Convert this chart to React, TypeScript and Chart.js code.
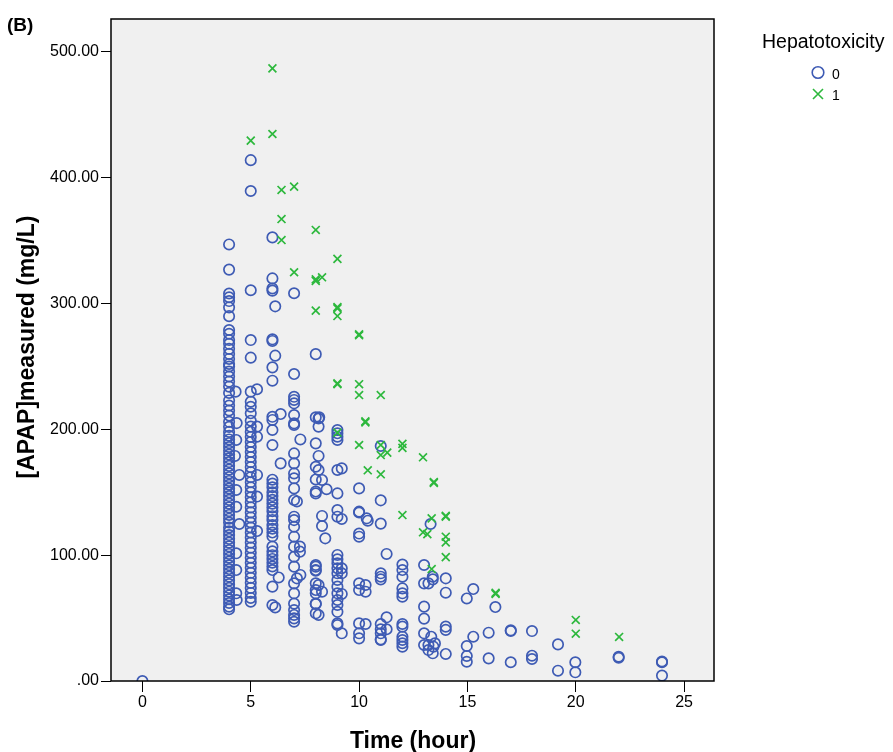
import { useEffect, useRef } from "react";
import { Chart, registerables } from "chart.js";

Chart.register(...registerables);

// ---- Axis ticks ----
const xTickValues = [0, 5, 10, 15, 20, 25];
const yTickValues = [0, 100, 200, 300, 400, 500];

// ---- Hepatotoxicity = 0 (circles): values measured at whole-hour times ----
const circleHours = [0, 4, 5, 6, 7, 8, 9, 10, 11, 12, 13, 14];
const circles_t0 = [0];
const circles_t4 = [347, 327, 308, 305, 302, 297, 290, 279, 276, 271, 268, 264, 260, 256, 252, 250, 246, 242, 238, 234, 229, 223, 219, 215, 211, 206, 202, 198, 195, 192, 189, 186, 183, 180, 177, 174, 171, 168, 165, 162, 159, 156, 153, 150, 147, 144, 141, 138, 135, 132, 129, 126, 122, 119, 116, 113, 110, 107, 104, 101, 98, 95, 92, 89, 86, 83, 80, 77, 74, 71, 68, 65, 62, 59, 57];
const circles_t5 = [414, 389.5, 310.6, 271, 257, 230, 222, 218, 212.8, 206.9, 202.2, 198, 194, 190, 186, 182, 178, 174, 170, 166, 162, 158, 154, 150, 146, 142, 138, 134, 130, 126, 122, 118, 114, 110, 106, 102, 98, 94, 90, 86, 82, 78, 74, 70, 66, 63];
const circles_t6 = [352.6, 320, 312, 310.3, 271.6, 270.3, 249.3, 238.7, 210, 207.5, 199.5, 187.6, 160, 157, 154, 150, 147, 144, 141, 138, 135, 131, 128, 124, 121, 118, 115, 106.8, 103, 100, 97, 94, 91, 88.2, 75, 60.4];
const circles_t7 = [308.2, 244, 225.9, 223.4, 220.7, 211.4, 204.8, 203.5, 180.9, 173, 165, 161.1, 153.1, 143.9, 130.6, 127.9, 122.6, 114.7, 106.8, 98.8, 90.9, 77.6, 69.7, 61.5, 56.4, 52.5, 49.8, 47.1];
const circles_t8 = [259.8, 209.6, 188.9, 170.3, 160.2, 150.6, 149.1, 92.2, 90.9, 88.2, 87.7, 77.6, 72.3, 69.7, 61.5, 61.2, 53.8];
const circles_t9 = [199.5, 196.9, 194.2, 191.6, 167.7, 149.1, 135.9, 130.6, 100.2, 96.7, 93.6, 89.6, 85.6, 80.3, 75, 69.7, 64.4, 60.4, 55, 45.8, 44.5];
const circles_t10 = [153.1, 134.6, 133.9, 117.2, 114.7, 77.6, 72.3, 45.8, 37.9, 33.9];
const circles_t11 = [186.8, 143.6, 125.1, 85.6, 82.9, 80.8, 45.3, 41.1, 37.9, 33.1, 32.6];
const circles_t12 = [92.6, 88.2, 82.9, 73.6, 69.7, 67, 45.3, 43.2, 35.2, 32.6, 30, 27.3];
const circles_t13 = [92.2, 77.6, 59.1, 49.6, 37.9, 28.6];
const circles_t14 = [81.6, 70.2, 43.2, 40.6, 21.5];
const circleColumns = [circles_t0, circles_t4, circles_t5, circles_t6, circles_t7, circles_t8, circles_t9, circles_t10, circles_t11, circles_t12, circles_t13, circles_t14];

// ---- Hepatotoxicity = 0 (circles): values at non-whole times [hour, mg/L] ----
const circlesEarlyOffset: [number, number][] = [
  [4.3, 230], [4.35, 205], [4.33, 191.6], [4.27, 178.9], [4.47, 163.8], [4.33, 151.8], [4.33, 138.5], [4.47, 124.8], [4.33, 101.5], [4.33, 88.2], [4.33, 69.7], [4.35, 64.4],
  [5.29, 231.9], [5.29, 202.2], [5.29, 194.2], [5.29, 163.8], [5.29, 146.6], [5.29, 119.2],
  [6.13, 297.8], [6.13, 258.6], [6.38, 212.2], [6.38, 173], [6.29, 82.3], [6.13, 58.5],
  [7.29, 192], [7.13, 142.7], [7.27, 106.8], [7.27, 102.8], [7.29, 84.3], [7.13, 81.6],
];
const circlesMidOffset: [number, number][] = [
  [8.16, 209.6], [8.13, 208.6], [8.13, 202.2], [8.13, 178.9], [8.13, 167.7], [8.29, 159.8], [8.5, 152.4], [8.29, 131.2], [8.29, 123.2], [8.44, 113.4], [8.13, 76.3], [8.29, 71], [8.13, 52.5],
  [9.2, 169], [9.2, 128.8], [9.2, 89.6], [9.2, 85.6], [9.2, 69.2], [9.2, 37.9],
  [10.35, 129.3], [10.4, 127.4], [10.3, 76.3], [10.3, 71], [10.3, 45.3],
  [11.27, 101], [11.27, 50.6], [11.27, 41.1],
  [13.3, 124.8], [13.2, 77.6], [13.4, 82.9], [13.4, 80.8], [13.2, 28.6], [13.33, 35.2], [13.43, 27.3], [13.4, 22], [13.2, 24.6], [13.5, 29.9],
];
const circlesLate: [number, number][] = [
  [14.97, 65.6], [15.27, 73.1], [14.97, 27.8], [15.27, 35.2], [14.97, 19.9], [14.97, 15.3],
  [15.98, 38.4], [15.98, 18], [16.29, 58.8],
  [17, 39.7], [17, 40.3], [17, 14.9],
  [17.98, 39.7], [17.98, 20.1], [17.98, 17.5],
  [19.18, 29.1], [19.18, 8.2],
  [19.98, 14.9], [19.98, 6.9],
  [21.98, 19.3], [21.98, 18.5],
  [23.98, 14.9], [23.98, 15.5], [23.98, 4.3],
];

// ---- Hepatotoxicity = 1 (crosses) [hour, mg/L] ----
const crossesEarly: [number, number][] = [
  [5, 429.5], [6, 487], [6, 434.8], [6.42, 390.3], [7, 393], [6.42, 367.2], [8, 358.5], [6.42, 350.5],
  [9, 335.5], [7, 324.9], [8, 319.3], [8, 318], [8.29, 320.9], [8, 294.4], [9, 296.2], [9, 297.2], [9, 290.1],
  [10, 274.8], [10, 275.6], [9, 235.9], [9, 236.6], [10, 235.9], [10, 227.3], [11, 227.3],
];
const crossesLate: [number, number][] = [
  [10.29, 205.6], [10.29, 206.4], [9, 197.4], [10, 187.6], [11, 187.6], [11, 179.6], [11.3, 181.5], [12, 188.5], [12, 185.3],
  [12.95, 177.8], [10.4, 167.5], [11, 164.3], [13.45, 157.4], [13.45, 158.2], [12, 131.9], [13.35, 129.3], [14, 130.6], [14, 131.3],
  [12.95, 118.2], [13.15, 116.7], [14, 114.7], [14, 110.2], [14, 98.5], [13.35, 89], [16.3, 69.2], [16.3, 70],
  [20, 48.5], [20, 37.6], [22, 35],
];

const BLUE = "#3E5BB4";
const GREEN = "#2DB83D";
const FONT = '"Liberation Sans", Arial, sans-serif';

const decorPlugin = {
  id: "decor",
  beforeDraw(chart: any) {
    const { ctx, chartArea: a } = chart;
    ctx.save();
    ctx.fillStyle = "#F0F0F0";
    ctx.fillRect(a.left, a.top, a.right - a.left, a.bottom - a.top);
    ctx.restore();
  },
  afterDraw(chart: any) {
    const { ctx, chartArea: a } = chart;
    ctx.save();
    ctx.strokeStyle = "#000";
    ctx.lineWidth = 1.5;
    ctx.strokeRect(a.left, a.top, a.right - a.left, a.bottom - a.top);

    ctx.fillStyle = "#000";
    // panel letter
    ctx.font = `bold 19px ${FONT}`;
    ctx.textAlign = "left";
    ctx.textBaseline = "alphabetic";
    ctx.fillText("(B)", 7, 31);

    // axis titles
    ctx.font = `bold 23px ${FONT}`;
    ctx.textAlign = "center";
    ctx.fillText("Time (hour)", 413, 748);
    ctx.save();
    ctx.translate(34, 347);
    ctx.rotate(-Math.PI / 2);
    ctx.fillText("[APAP]measured (mg/L)", 0, 0);
    ctx.restore();

    // legend
    ctx.textAlign = "left";
    ctx.font = `19.5px ${FONT}`;
    ctx.fillText("Hepatotoxicity", 762, 48);
    ctx.font = `14px ${FONT}`;
    ctx.fillText("0", 832, 78.5);
    ctx.fillText("1", 832, 100);
    ctx.strokeStyle = BLUE;
    ctx.lineWidth = 1.6;
    ctx.beginPath();
    ctx.arc(818, 72.5, 5.8, 0, Math.PI * 2);
    ctx.stroke();
    ctx.strokeStyle = GREEN;
    ctx.lineWidth = 1.6;
    ctx.beginPath();
    ctx.moveTo(813, 89);
    ctx.lineTo(823, 99);
    ctx.moveTo(823, 89);
    ctx.lineTo(813, 99);
    ctx.stroke();
    ctx.restore();
  },
};

export default function App() {
  const ref = useRef<HTMLCanvasElement | null>(null);

  useEffect(() => {
    if (!ref.current) return;
    const circlePoints: { x: number; y: number }[] = [];
    circleColumns.forEach((col, i) => col.forEach((v) => circlePoints.push({ x: circleHours[i], y: v })));
    [...circlesEarlyOffset, ...circlesMidOffset, ...circlesLate].forEach(([x, y]) => circlePoints.push({ x, y }));
    const crossPoints = [...crossesEarly, ...crossesLate].map(([x, y]) => ({ x, y }));

    const tickFont = { family: FONT, size: 16 };
    const chart = new Chart(ref.current, {
      type: "scatter",
      data: {
        datasets: [
          {
            label: "1",
            data: crossPoints,
            pointStyle: "crossRot",
            pointRadius: 5.6,
            pointBorderWidth: 1.7,
            borderColor: GREEN,
            backgroundColor: GREEN,
            order: 0,
            clip: 0,
          } as any,
          {
            label: "0",
            data: circlePoints,
            pointStyle: "circle",
            pointRadius: 5.2,
            pointBorderWidth: 1.7,
            borderColor: BLUE,
            backgroundColor: "rgba(0,0,0,0)",
            order: 1,
            clip: 0,
          } as any,
        ],
      },
      options: {
        animation: false,
        responsive: false,
        devicePixelRatio: 1,
        layout: { padding: { top: 19, right: 179, left: 0, bottom: 0 } },
        plugins: { legend: { display: false }, tooltip: { enabled: false }, title: { display: false } },
        scales: {
          x: {
            type: "linear",
            min: -1.45,
            max: 26.38,
            afterBuildTicks: (s: any) => {
              s.ticks = xTickValues.map((v) => ({ value: v }));
            },
            afterFit: (s: any) => {
              s.height = 71;
            },
            border: { display: false },
            grid: { drawOnChartArea: false, drawTicks: true, tickLength: 11, color: "#000", tickColor: "#000", lineWidth: 1 },
            ticks: { padding: 1, font: tickFont, color: "#000", maxRotation: 0, autoSkip: false, callback: (v: any) => String(v) },
          },
          y: {
            type: "linear",
            min: 0,
            max: 526.2,
            afterBuildTicks: (s: any) => {
              s.ticks = yTickValues.map((v) => ({ value: v }));
            },
            afterFit: (s: any) => {
              s.width = 111;
            },
            border: { display: false },
            grid: { drawOnChartArea: false, drawTicks: true, tickLength: 10, color: "#000", tickColor: "#000", lineWidth: 1 },
            ticks: {
              padding: 2,
              font: tickFont,
              color: "#000",
              autoSkip: false,
              callback: (v: any) => (Number(v) === 0 ? ".00" : Number(v).toFixed(2)),
            },
          },
        },
      } as any,
      plugins: [decorPlugin],
    });
    return () => chart.destroy();
  }, []);

  return (
    <div style={{ position: "absolute", left: 0, top: 0, width: 893, height: 752, background: "#fff" }}>
      <canvas ref={ref} width={893} height={752} style={{ display: "block", width: 893, height: 752 }} />
    </div>
  );
}
